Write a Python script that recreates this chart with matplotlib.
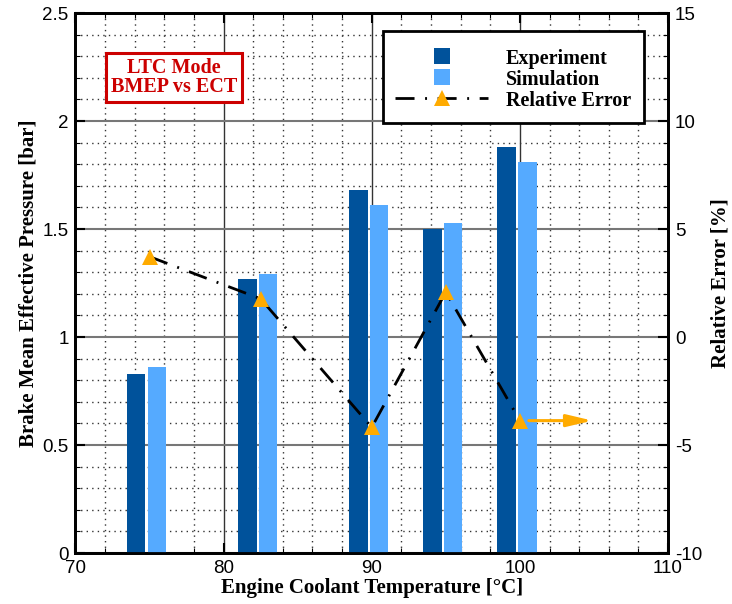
import matplotlib
matplotlib.use("Agg")
import matplotlib.pyplot as plt
from matplotlib.lines import Line2D
from matplotlib.ticker import MultipleLocator

# Measured data: brake mean effective pressure vs. engine coolant temperature
temps = [75, 82.5, 90, 95, 100]
bmep_exp = [0.83, 1.27, 1.68, 1.50, 1.88]
bmep_sim = [0.86, 1.29, 1.61, 1.53, 1.81]
rel_err = [3.72, 1.77, -4.18, 2.08, -3.87]

x_ticks = [70, 80, 90, 100, 110]
y_ticks = [0, 0.5, 1, 1.5, 2, 2.5]
y2_ticks = [-10, -5, 0, 5, 10, 15]

c_exp = "#00529b"
c_sim = "#55aaff"
c_err = "#ffab00"
c_note = "#cc0000"

serif = "Liberation Serif"
sans = "Liberation Sans"

err_dashes = (6.85, 3.8, 0.7, 3.8)

fig = plt.figure(figsize=(7.32, 6.04), dpi=100)
ax = fig.add_axes([0.1031, 0.0844, 0.8095, 0.894])
ax2 = ax.twinx()

bar_w = 1.25
ax.bar([t - 0.9 for t in temps], bmep_exp, width=bar_w, color=c_exp, zorder=3)
ax.bar([t + 0.5 for t in temps], bmep_sim, width=bar_w, color=c_sim, zorder=3)

ax.set_xlim(70, 110)
ax.set_ylim(0, 2.5)
ax.set_xticks(x_ticks)
ax.set_yticks(y_ticks)
ax.set_xticklabels([str(v) for v in x_ticks])
ax.set_yticklabels(["0", "0.5", "1", "1.5", "2", "2.5"])
ax.xaxis.set_minor_locator(MultipleLocator(2))
ax.yaxis.set_minor_locator(MultipleLocator(0.1))

# grid: solid majors, dotted minors
ax.set_axisbelow(True)
ax.grid(axis="x", which="major", color="#333333", lw=1.0, zorder=0)
ax.grid(axis="y", which="major", color="#777777", lw=1.5, zorder=0)
ax.grid(which="minor", color="#333333", lw=1.0, linestyle=(0, (1, 3)), zorder=0)

ax2.set_ylim(-10, 15)
ax2.set_yticks(y2_ticks)
ax2.set_yticklabels([str(v) for v in y2_ticks])
ax2.yaxis.set_minor_locator(MultipleLocator(1))

ax2.plot(temps, rel_err, color="black", lw=2.0, dashes=err_dashes,
         dash_capstyle="butt", zorder=4)
ax2.plot(temps, rel_err, ls="none", marker="^", ms=11.5, color=c_err,
         markeredgewidth=0, zorder=5)

# arrow pointing to the right-hand axis
ax2.annotate("", xy=(104.9, rel_err[-1]), xytext=(100.6, rel_err[-1]),
             arrowprops=dict(arrowstyle="-|>,head_length=1.1,head_width=0.26",
                             color=c_err, lw=2.2, mutation_scale=14,
                             shrinkA=0, shrinkB=0), zorder=5)

for a in (ax, ax2):
    for s in a.spines.values():
        s.set_linewidth(2.0)
        s.set_color("black")

ax.tick_params(axis="both", which="major", direction="in", length=7, width=1.5,
               labelsize=13.5, top=True, right=False, pad=5)
ax.tick_params(axis="both", which="minor", direction="in", length=3.5, width=0.8,
               top=True, right=False)
ax2.tick_params(axis="y", which="major", direction="in", length=7, width=1.5,
                labelsize=13.5, pad=5)
ax2.tick_params(axis="y", which="minor", direction="in", length=3.5, width=0.8)

for lbl in ax.get_xticklabels() + ax.get_yticklabels() + ax2.get_yticklabels():
    lbl.set_family(sans)

lab_font = dict(family=serif, weight="bold", size=15)
ax.set_xlabel("Engine Coolant Temperature [°C]", labelpad=1, **lab_font)
ax.set_ylabel("Brake Mean Effective Pressure [bar]", labelpad=3, **lab_font)
ax2.set_ylabel("Relative Error [%]", labelpad=6, **lab_font)

ax2.text(0.1668, 0.8806, "LTC Mode\nBMEP vs ECT", transform=ax2.transAxes,
         ha="center", va="center", color=c_note, family=serif, weight="bold",
         size=14.5, linespacing=0.95, zorder=6,
         bbox=dict(boxstyle="square,pad=0.25", fc="white", ec=c_note, lw=2.2))

handles = [
    Line2D([], [], ls="none", marker="s", ms=11.5, color=c_exp, markeredgewidth=0),
    Line2D([], [], ls="none", marker="s", ms=11.5, color=c_sim, markeredgewidth=0),
    Line2D([], [], color="black", lw=2.0, dashes=err_dashes,
           marker="^", ms=11.5, markerfacecolor=c_err, markeredgewidth=0),
]
leg = ax2.legend(handles, ["Experiment", "Simulation", "Relative Error"],
                 loc="upper left", bbox_to_anchor=(0.5185, 0.9667), borderaxespad=0,
                 prop=dict(family=serif, weight="bold", size=14.5),
                 title=" ", title_fontproperties=dict(size=2),
                 handlelength=4.6, handletextpad=0.9, labelspacing=0.05,
                 borderpad=0.62, numpoints=1, fancybox=False, framealpha=1,
                 edgecolor="black")
leg.get_frame().set_linewidth(2.0)
leg.set_zorder(7)

fig.savefig("out.png", dpi=100)
